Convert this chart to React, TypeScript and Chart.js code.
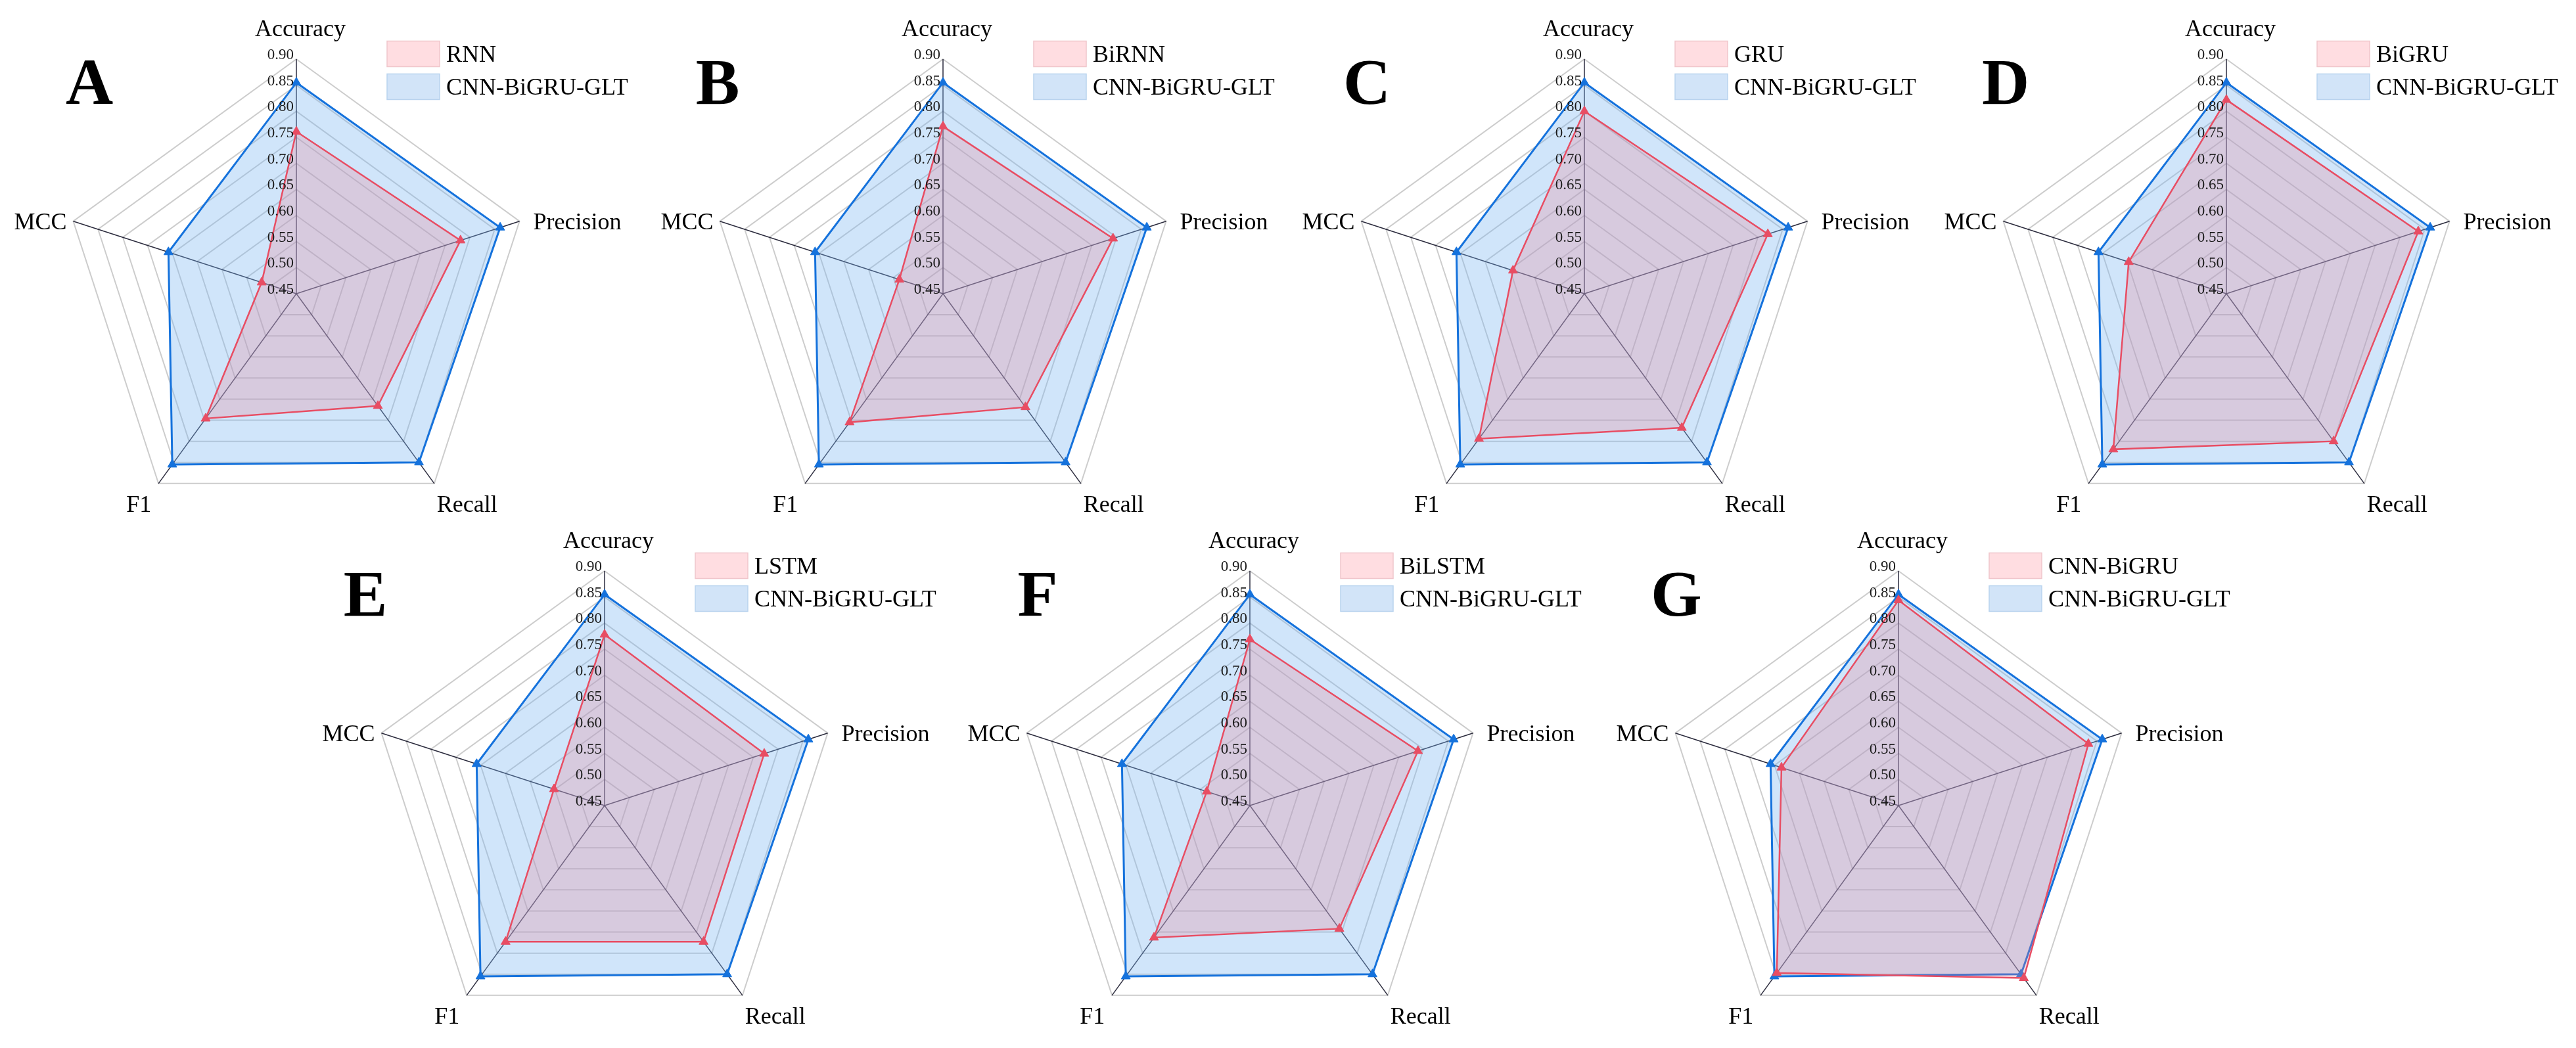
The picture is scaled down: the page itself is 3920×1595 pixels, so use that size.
import React, { useEffect, useRef } from "react";
import { Chart, registerables } from "chart.js";

Chart.register(...registerables);

// ---------- data ----------
const CATEGORIES = ["Accuracy", "Precision", "Recall", "F1", "MCC"];
const TICK_VALUES = [0.45, 0.5, 0.55, 0.6, 0.65, 0.7, 0.75, 0.8, 0.85, 0.9];
const TICK_LABELS = ["0.45", "0.50", "0.55", "0.60", "0.65", "0.70", "0.75", "0.80", "0.85", "0.90"];

const GLT_NAME = "CNN-BiGRU-GLT";
const GLT_VALUES = [0.855, 0.861, 0.85, 0.855, 0.708];

const RNN_VALUES = [0.761, 0.781, 0.716, 0.746, 0.52];
const BIRNN_VALUES = [0.771, 0.793, 0.719, 0.755, 0.538];
const GRU_VALUES = [0.8, 0.82, 0.768, 0.794, 0.594];
const BIGRU_VALUES = [0.822, 0.837, 0.8, 0.819, 0.647];
const LSTM_VALUES = [0.778, 0.772, 0.773, 0.773, 0.552];
const BILSTM_VALUES = [0.769, 0.789, 0.742, 0.763, 0.537];
const CNNBIGRU_VALUES = [0.844, 0.833, 0.859, 0.847, 0.686];

const PANEL_LETTERS = ["A", "B", "C", "D", "E", "F", "G"];
const BASELINE_NAMES = ["RNN", "BiRNN", "GRU", "BiGRU", "LSTM", "BiLSTM", "CNN-BiGRU"];
const BASELINE_VALUES = [
  RNN_VALUES,
  BIRNN_VALUES,
  GRU_VALUES,
  BIGRU_VALUES,
  LSTM_VALUES,
  BILSTM_VALUES,
  CNNBIGRU_VALUES,
];

// ---------- layout / style ----------
const R = 357;
const LAYOUT = [
  { cx: 451, cy: 447, top: 0, h: 810, letterDx: -315 },
  { cx: 1435, cy: 447, top: 0, h: 810, letterDx: -343 },
  { cx: 2411, cy: 447, top: 0, h: 810, letterDx: -331 },
  { cx: 3388, cy: 447, top: 0, h: 810, letterDx: -336 },
  { cx: 920, cy: 1226, top: 790, h: 805, letterDx: -364 },
  { cx: 1902, cy: 1226, top: 790, h: 805, letterDx: -323 },
  { cx: 2889, cy: 1226, top: 790, h: 805, letterDx: -338 },
];
const LEFT_OFF = 450;
const CANVAS_W = 975;

const SERIF = "'Liberation Serif', 'Times New Roman', serif";
const RED = "#e84d63";
const BLUE = "#1572dc";
const RED_FILL = "rgba(238,129,146,0.27)";
const BLUE_FILL = "rgba(120,180,240,0.35)";
const LEGEND_FILL = ["#ffdde1", "#d2e4f8"];
const LEGEND_BORDER = ["#f0c6cb", "#b9d3ee"];

const overlayPlugin = {
  id: "overlay",
  afterDraw(chart: any, _args: any, opts: any) {
    const ctx = chart.ctx as CanvasRenderingContext2D;
    const s = chart.scales.r;
    const cx = s.xCenter;
    const cy = s.yCenter;
    ctx.save();

    // tick labels
    ctx.font = `23px ${SERIF}`;
    ctx.fillStyle = "#1a1a1a";
    ctx.textAlign = "right";
    ctx.textBaseline = "middle";
    s.ticks.forEach((t: any, i: number) => {
      const d = s.getDistanceFromCenterForValue(t.value);
      ctx.fillText(TICK_LABELS[i], cx - 4, cy - d - 6);
    });

    // point labels
    ctx.font = `36px ${SERIF}`;
    ctx.fillStyle = "#000";
    ctx.textBaseline = "alphabetic";
    CATEGORIES.forEach((lab, i) => {
      const p = s.getPointPosition(i, s.drawingArea);
      if (i === 0) {
        ctx.textAlign = "center";
        ctx.fillText(lab, p.x + 6, p.y - 35);
      } else if (i === 1) {
        ctx.textAlign = "left";
        ctx.fillText(lab, p.x + 21, p.y + 12);
      } else if (i === 2) {
        ctx.textAlign = "left";
        ctx.fillText(lab, p.x + 4, p.y + 43);
      } else if (i === 3) {
        ctx.textAlign = "right";
        ctx.fillText(lab, p.x - 11, p.y + 43);
      } else {
        ctx.textAlign = "right";
        ctx.fillText(lab, p.x - 10, p.y + 12);
      }
    });

    // panel letter
    ctx.font = `bold 100px ${SERIF}`;
    ctx.textAlign = "center";
    ctx.textBaseline = "alphabetic";
    ctx.fillText(opts.letter, cx + opts.letterDx, cy - 289);

    // legend
    chart.data.datasets.forEach((ds: any, i: number) => {
      const top = cy - 384.5 + i * 50;
      ctx.fillStyle = LEGEND_FILL[i];
      ctx.fillRect(cx + 138, top, 80, 39);
      ctx.strokeStyle = LEGEND_BORDER[i];
      ctx.lineWidth = 1.5;
      ctx.strokeRect(cx + 138, top, 80, 39);
      ctx.fillStyle = "#000";
      ctx.font = `36px ${SERIF}`;
      ctx.textAlign = "left";
      ctx.textBaseline = "alphabetic";
      ctx.fillText(ds.label, cx + 228, top + 19.5 + 12);
    });

    ctx.restore();
  },
};

function RadarPanel({ index }: { index: number }) {
  const ref = useRef<HTMLCanvasElement>(null);
  const lay = LAYOUT[index];
  const left = lay.cx - LEFT_OFF;

  useEffect(() => {
    const canvas = ref.current!;
    const padTop = lay.cy - lay.top - R;
    const padBottom = lay.h - (lay.cy - lay.top) - R;
    const chart = new Chart(canvas, {
      type: "radar",
      data: {
        labels: CATEGORIES,
        datasets: [
          {
            label: BASELINE_NAMES[index],
            data: BASELINE_VALUES[index],
            borderColor: RED,
            backgroundColor: RED_FILL,
            borderWidth: 2.5,
            pointStyle: "triangle",
            pointRadius: 8,
            pointBackgroundColor: RED,
            pointBorderColor: RED,
            pointBorderWidth: 1,
            fill: true,
            clip: false,
          } as any,
          {
            label: GLT_NAME,
            data: GLT_VALUES,
            borderColor: BLUE,
            backgroundColor: BLUE_FILL,
            borderWidth: 3,
            pointStyle: "triangle",
            pointRadius: 8,
            pointBackgroundColor: BLUE,
            pointBorderColor: BLUE,
            pointBorderWidth: 1,
            fill: true,
            clip: false,
          } as any,
        ],
      },
      options: {
        responsive: false,
        animation: false,
        devicePixelRatio: 1,
        layout: {
          padding: {
            left: LEFT_OFF - R,
            right: CANVAS_W - LEFT_OFF - R,
            top: padTop,
            bottom: padBottom,
          },
        },
        elements: { line: { tension: 0 } },
        plugins: {
          legend: { display: false },
          tooltip: { enabled: false },
          overlay: { letter: PANEL_LETTERS[index], letterDx: lay.letterDx },
        } as any,
        scales: {
          r: {
            min: TICK_VALUES[0],
            max: TICK_VALUES[TICK_VALUES.length - 1],
            startAngle: 0,
            z: 1,
            afterBuildTicks: (scale: any) => {
              scale.ticks = TICK_VALUES.map((v) => ({ value: v }));
            },
            ticks: { display: false },
            pointLabels: { display: false },
            grid: { circular: false, color: "rgba(0,0,0,0.2)", lineWidth: 2 },
            angleLines: { color: "rgba(20,20,40,0.9)", lineWidth: 1.5 },
          } as any,
        },
      },
      plugins: [overlayPlugin as any],
    });
    return () => chart.destroy();
  }, [index]);

  return (
    <canvas
      ref={ref}
      width={CANVAS_W}
      height={lay.h}
      style={{ position: "absolute", left, top: lay.top, width: CANVAS_W, height: lay.h }}
    />
  );
}

export default function App() {
  return (
    <div
      style={{
        position: "absolute",
        left: 0,
        top: 0,
        width: 3920,
        height: 1595,
        background: "#fff",
        overflow: "hidden",
      }}
    >
      {PANEL_LETTERS.map((_, i) => (
        <RadarPanel key={i} index={i} />
      ))}
    </div>
  );
}
